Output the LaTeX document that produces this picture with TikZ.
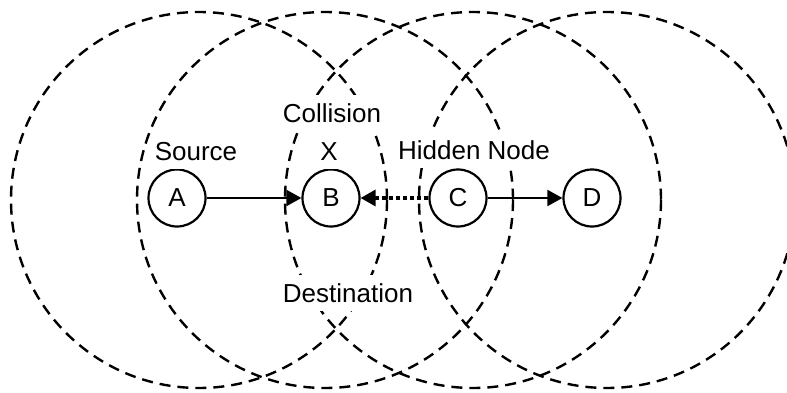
\documentclass[tikz,border=0pt]{standalone}
\usepackage{fontspec}
\setmainfont{Liberation Sans}
\usetikzlibrary{arrows.meta}
\begin{document}
\begin{tikzpicture}[x=1pt,y=-1pt,
  rangecircle/.style={draw=black,line width=2.4pt,dash pattern=on 11pt off 7pt},
  station/.style={circle,draw=black,fill=white,line width=2.2pt,minimum size=57pt,inner sep=0pt,font=\fontsize{26}{31}\selectfont},
  lbl/.style={fill=white,inner xsep=2pt,inner ysep=8pt,font=\fontsize{26}{31}\selectfont},
  solidlink/.style={line width=2.2pt,-{Triangle[length=15pt,width=16pt]}},
  hiddenlink/.style={line width=3.2pt,dash pattern=on 4pt off 3pt,-{Triangle[length=15pt,width=16pt]}}]
\useasboundingbox (0,0) rectangle (787,393);
\clip (0,0) rectangle (787,393);
\draw[rangecircle] (199,200) circle[radius=188];
\draw[rangecircle] (325,200) circle[radius=188];
\draw[rangecircle] (473,200) circle[radius=188];
\draw[rangecircle] (607,200) circle[radius=188];
\node[station] (A) at (177,198) {A};
\node[station] (B) at (331,198) {B};
\node[station] (C) at (458,198) {C};
\node[station] (D) at (592,198) {D};
\node[lbl] (src) at (196,152) {Source};
\node[lbl] (col) at (332,113) {Collision};
\node[lbl] (x) at (329,152) {X};
\node[lbl] (hid) at (474,150) {Hidden Node};
\node[lbl] (dst) at (348,293) {Destination};
\draw[solidlink] (A) -- (B);
\draw[hiddenlink] (C) -- (B);
\draw[solidlink] (C) -- (D);
\end{tikzpicture}
\end{document}
